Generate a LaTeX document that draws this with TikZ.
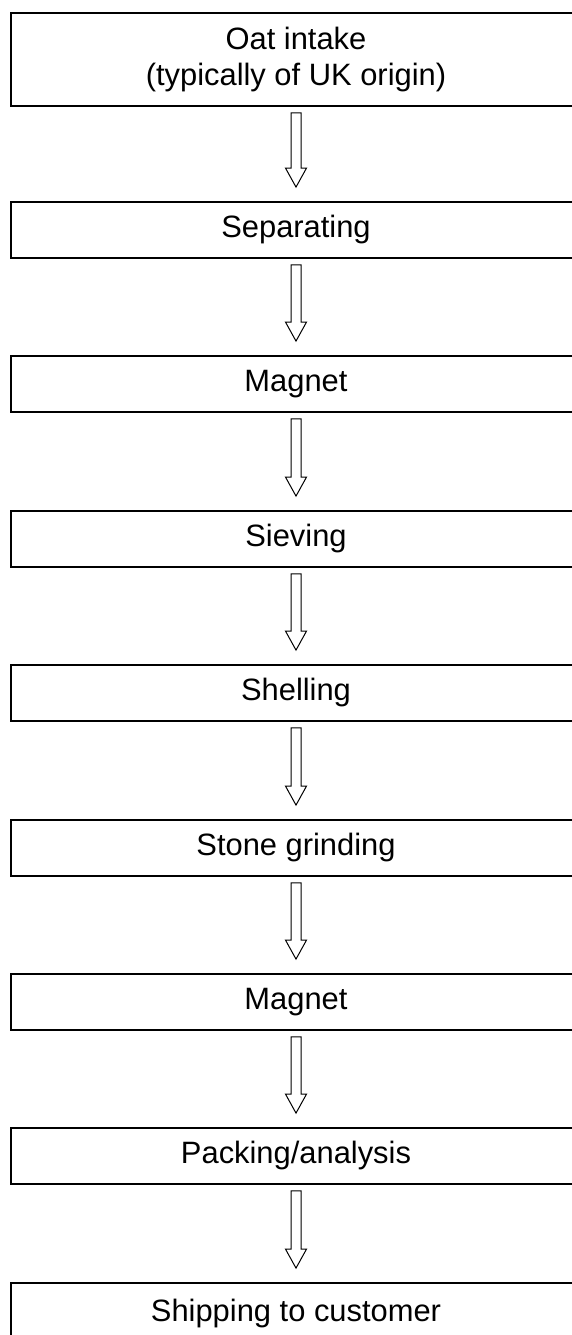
\documentclass[tikz,border=0pt]{standalone}
\usepackage{fontspec}
\setmainfont{Liberation Sans}
\usetikzlibrary{calc}
\tikzset{
  stepbox/.style={draw=black, line width=1.8bp, minimum width=570bp, inner sep=0pt,
    font=\fontsize{31}{36}\selectfont, align=center},
  hollow/.style={draw=black, line width=1bp, fill=white, line join=miter}
}
\newcommand\blockarrow[2]{%
  \draw[hollow] ($(#1.south)+(-5,6)$) -- ($(#2.north)+(-5,-33)$) -- ($(#2.north)+(-10.5,-33)$)
    -- ($(#2.north)+(0,-14)$) -- ($(#2.north)+(10.5,-33)$) -- ($(#2.north)+(5,-33)$)
    -- ($(#1.south)+(5,6)$) -- cycle;}
\begin{document}
\begin{tikzpicture}[x=1bp,y=-1bp]
\useasboundingbox (0,0) rectangle (572,1335);
\clip (0,0) rectangle (572,1335);
\node[stepbox, minimum height=93bp] (b1) at (296,59.5) {Oat intake\\(typically of UK origin)};
\node[stepbox, minimum height=56bp] (b2) at (296,230) {Separating};
\node[stepbox, minimum height=56bp] (b3) at (296,384) {Magnet};
\node[stepbox, minimum height=56bp] (b4) at (296,539) {Sieving};
\node[stepbox, minimum height=56bp] (b5) at (296,693) {Shelling};
\node[stepbox, minimum height=56bp] (b6) at (296,848) {Stone grinding};
\node[stepbox, minimum height=56bp] (b7) at (296,1002) {Magnet};
\node[stepbox, minimum height=56bp] (b8) at (296,1156) {Packing/analysis};
\node[stepbox, minimum height=60bp] (b9) at (296,1313) {Shipping to customer};
\blockarrow{b1}{b2}
\blockarrow{b2}{b3}
\blockarrow{b3}{b4}
\blockarrow{b4}{b5}
\blockarrow{b5}{b6}
\blockarrow{b6}{b7}
\blockarrow{b7}{b8}
\blockarrow{b8}{b9}
\end{tikzpicture}
\end{document}
